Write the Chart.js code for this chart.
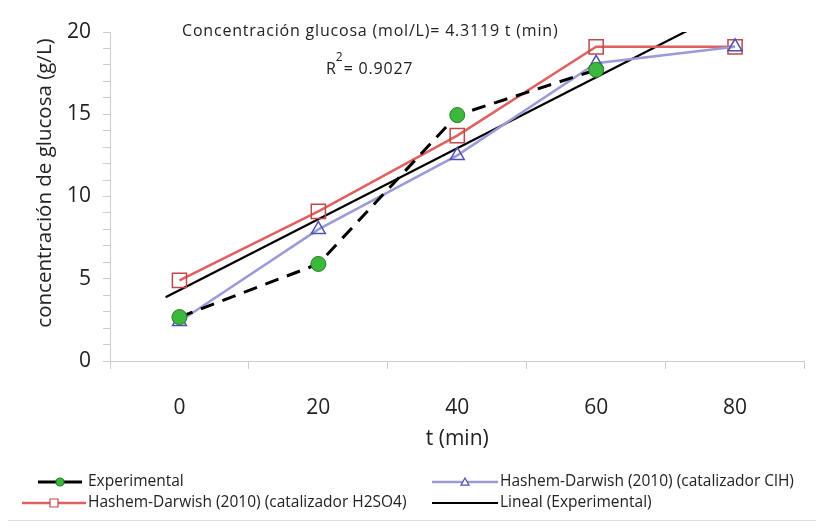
<!DOCTYPE html>
<html>
<head>
<meta charset="utf-8">
<script src="https://cdn.jsdelivr.net/npm/chart.js@4/dist/chart.umd.min.js"></script>
<style>
html,body{margin:0;padding:0;background:#fff;}
#wrap{position:relative;width:816px;height:530px;}
</style>
</head>
<body>
<div id="wrap"><canvas id="c" width="816" height="530"></canvas></div>
<script>
// ---- data ----
const categories = [0, 20, 40, 60, 80];               // t (min)
const experimental = [2.67, 5.9, 14.95, 17.7];         // g/L
const hdClH = [2.4, 8.0, 12.5, 18.1, 19.1];           // Hashem-Darwish ClH
const hdH2SO4 = [4.9, 9.1, 13.7, 19.1, 19.1];         // Hashem-Darwish H2SO4
const trendSlope = 4.3119;                             // y = 4.3119 t (t = point index)
const trendRange = [0.9, 5];                           // index range of the trend line
const rSquared = 0.9027;
const yTicks = [0, 5, 10, 15, 20];
const yTitle = 'concentración de glucosa (g/L)';

const FONT = "'Open Sans', sans-serif";

const toXY = arr => arr.map((v, i) => ({x: i + 1, y: v}));
const trendData = trendRange.map(t => ({x: t, y: trendSlope * t}));

const legendItems = [
  {label: 'Experimental', ds: 0},
  {label: 'Hashem-Darwish (2010) (catalizador ClH)', ds: 1},
  {label: 'Hashem-Darwish (2010) (catalizador H2SO4)', ds: 2},
  {label: 'Lineal (Experimental)', ds: 3}
];

function drawMarker(ctx, style, x, y, r, fill, stroke, lw) {
  ctx.save();
  ctx.lineWidth = lw; ctx.fillStyle = fill; ctx.strokeStyle = stroke;
  ctx.beginPath();
  if (style === 'circle') ctx.arc(x, y, r, 0, Math.PI * 2);
  else if (style === 'rect') ctx.rect(x - r, y - r, 2 * r, 2 * r);
  else if (style === 'triangle') { ctx.moveTo(x, y - r); ctx.lineTo(x + r, y + r * 0.8); ctx.lineTo(x - r, y + r * 0.8); ctx.closePath(); }
  if (style !== 'none') { ctx.fill(); ctx.stroke(); }
  ctx.restore();
}

const extras = {
  id: 'extras',
  afterDraw(chart) {
    const ctx = chart.ctx;
    ctx.save();
    // y axis title
    ctx.save();
    ctx.translate(45, 183);
    ctx.rotate(-Math.PI / 2);
    ctx.fillStyle = '#222';
    ctx.font = "20.5px " + FONT;
    ctx.textAlign = 'center';
    ctx.textBaseline = 'middle';
    ctx.fillText(yTitle, 0, 0);
    ctx.restore();

    // annotation
    ctx.fillStyle = '#222';
    ctx.textBaseline = 'middle';
    ctx.textAlign = 'left';
    ctx.letterSpacing = '0.8px';
    ctx.font = "16px " + FONT;
    ctx.fillText('Concentración glucosa (mol/L)= ' + trendSlope + ' t (min)', 182, 31);
    ctx.fillText('R', 326, 69);
    const rw = ctx.measureText('R').width;
    ctx.font = "12px " + FONT;
    ctx.fillText('2', 326 + rw - 1, 58);
    ctx.font = "16px " + FONT;
    ctx.fillText(' = ' + rSquared, 326 + rw + 2, 69);
    ctx.letterSpacing = '0px';

    // legend
    const pos = [
      {x1: 38, x2: 82, y: 482, tx: 88},
      {x1: 432, x2: 498, y: 482, tx: 500},
      {x1: 22, x2: 86, y: 503, tx: 88},
      {x1: 432, x2: 498, y: 503, tx: 500}
    ];
    legendItems.forEach((it, i) => {
      const ds = chart.data.datasets[it.ds];
      const p = pos[i];
      ctx.save();
      ctx.strokeStyle = ds.borderColor;
      ctx.lineWidth = ds.borderWidth;
      ctx.beginPath(); ctx.moveTo(p.x1, p.y); ctx.lineTo(p.x2, p.y); ctx.stroke();
      ctx.restore();
      drawMarker(ctx, ds.pointStyle, (p.x1 + p.x2) / 2, p.y, 4, ds.pointBackgroundColor === 'rgba(255,255,255,0)' ? '#fff' : ds.pointBackgroundColor, ds.pointBorderColor, 1.2);
      ctx.fillStyle = '#222';
      ctx.font = "15.5px " + FONT;
      ctx.textBaseline = 'middle';
      ctx.textAlign = 'left';
      ctx.fillText(it.label, p.tx, p.y);
    });
    ctx.strokeStyle = '#ddd';
    ctx.lineWidth = 1;
    ctx.beginPath(); ctx.moveTo(8, 520.5); ctx.lineTo(816, 520.5); ctx.stroke();
    ctx.restore();
  }
};

new Chart(document.getElementById('c'), {
  type: 'line',
  data: {
    datasets: [
      {
        label: 'Experimental', data: toXY(experimental),
        borderColor: '#000', borderWidth: 3, borderDash: [14, 9],
        pointStyle: 'circle', pointRadius: 7.5, pointBackgroundColor: '#3cb83c',
        pointBorderColor: '#2a7a2a', pointBorderWidth: 1, tension: 0
      },
      {
        label: 'Hashem-Darwish (2010) (catalizador ClH)', data: toXY(hdClH),
        borderColor: '#9a9ad8', borderWidth: 2.5,
        pointStyle: 'triangle', pointRadius: 8, pointBackgroundColor: 'rgba(255,255,255,0)',
        pointBorderColor: '#5050b0', pointBorderWidth: 1.5, tension: 0
      },
      {
        label: 'Hashem-Darwish (2010) (catalizador H2SO4)', data: toXY(hdH2SO4),
        borderColor: '#e06060', borderWidth: 2.5,
        pointStyle: 'rect', pointRadius: 10, pointBackgroundColor: 'rgba(255,255,255,0)',
        pointBorderColor: '#c04848', pointBorderWidth: 1.5, tension: 0
      },
      {
        label: 'Lineal (Experimental)', data: trendData,
        borderColor: '#000', borderWidth: 2.2,
        pointStyle: 'none', pointRadius: 0, pointBackgroundColor: '#000', pointBorderColor: '#000', tension: 0
      }
    ]
  },
  options: {
    responsive: false,
    animation: false,
    layout: {padding: {top: 32, right: -6, bottom: 68, left: 0}},
    plugins: {legend: {display: false}, tooltip: {enabled: false}},
    scales: {
      x: {
        type: 'linear', min: 0.5, max: 5.5,
        afterBuildTicks: s => { s.ticks = []; for (let v = 0.5; v <= 5.5; v += 0.5) s.ticks.push({value: v}); },
        ticks: {
          autoSkip: false, maxRotation: 0,
          font: {family: FONT, size: 21}, color: '#222', padding: 26,
          callback: v => Number.isInteger(v) ? String(categories[v - 1]) : ''
        },
        grid: {
          drawOnChartArea: false, drawTicks: true, tickLength: 8,
          color: c => (c.tick && Number.isInteger(c.tick.value)) ? 'rgba(0,0,0,0)' : '#ccc'
        },
        border: {color: '#ccc', width: 1},
        title: {display: true, text: 't (min)', font: {family: FONT, size: 21}, color: '#222', padding: {top: 4, bottom: 10}},
        afterFit: s => { s.height = 101; s.paddingLeft = 0; s.paddingRight = 0; }
      },
      y: {
        min: 0, max: 20,
        afterBuildTicks: s => { s.ticks = []; for (let v = 0; v <= 20; v++) s.ticks.push({value: v}); },
        ticks: {
          autoSkip: false, font: {family: FONT, size: 21}, color: '#222', padding: 12,
          callback: v => yTicks.includes(v) ? String(v) : ''
        },
        grid: {drawOnChartArea: false, drawTicks: true, tickLength: 7, color: '#ccc'},
        border: {color: '#ccc', width: 1},
        title: {display: false},
        afterFit: s => { s.width = 110; s.paddingTop = 0; s.paddingBottom = 0; }
      }
    }
  },
  plugins: [extras]
});
</script>
</body>
</html>
